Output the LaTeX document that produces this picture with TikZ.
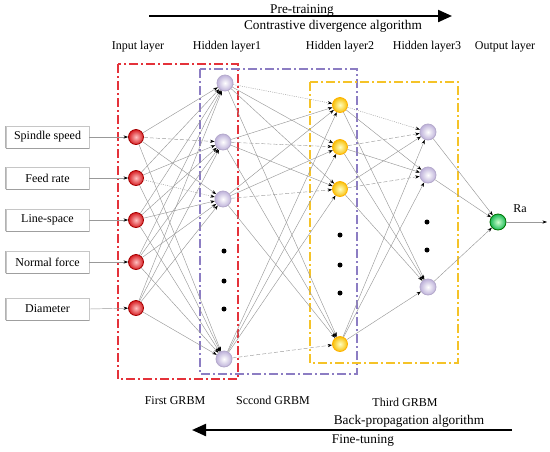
\documentclass[tikz,border=0pt]{standalone}
\usepackage{fontspec}
\setmainfont{Liberation Serif}
\usetikzlibrary{arrows.meta}
\definecolor{rboxc}{RGB}{228,50,58}
\definecolor{pboxc}{RGB}{140,125,195}
\definecolor{yboxc}{RGB}{245,195,40}
\definecolor{hpurple}{RGB}{190,178,218}
\definecolor{hyellow}{RGB}{248,192,10}
\definecolor{hred}{RGB}{215,30,35}
\definecolor{hgreen}{RGB}{25,185,85}
\tikzset{
  ballbase/.style={circle, minimum size=15pt, inner sep=0pt, line width=0.8pt, shading=radial},
  redball/.style={ballbase, inner color=red!25!white, outer color=hred, draw=red!65!black},
  purpball/.style={ballbase, minimum size=16pt, inner color=white, outer color=hpurple, draw=hpurple!85!gray},
  yelball/.style={ballbase, inner color=yellow!25!white, outer color=hyellow, draw=orange!60!yellow},
  grnball/.style={ballbase, minimum size=16pt, inner color=green!20!white, outer color=hgreen, draw=green!45!black},
  dotn/.style={circle, fill=black, minimum size=5pt, inner sep=0pt},
  conn/.style={draw=gray!80, line width=0.45pt, -{Stealth[length=4.5pt,width=3.2pt,black]}},
  dashc/.style={dash pattern=on 4pt off 2pt},
  dotc/.style={dash pattern=on 1pt off 1.2pt},
  inbox/.style={draw=gray!45, line width=0.6pt, minimum width=83pt, minimum height=22pt, inner sep=0pt, font=\fontsize{12}{14}\selectfont},
  lbl/.style={font=\fontsize{12}{14}\selectfont, anchor=base, inner sep=0pt},
  biglbl/.style={font=\fontsize{13.3}{15}\selectfont, anchor=base, inner sep=0pt},
  bigarrow/.style={line width=2.2pt, -{Triangle[length=14pt,width=12pt]}},
  grbm/.style={line width=1.3pt, dash pattern=on 9pt off 3pt on 2pt off 3pt},
}
\begin{document}
\begin{tikzpicture}[x=1pt,y=-1pt]
\useasboundingbox (0,0) rectangle (550,451);

% GRBM boxes
\draw[grbm, rboxc] (118,64) rectangle (238,379);
\draw[grbm, pboxc, line width=1.1pt] (200,69) rectangle (357,374);
\draw[grbm, yboxc, line width=1.1pt] (310,82) rectangle (458,363);

% layer labels
\node[lbl] (lin) at (138,49) {Input layer};
\node[lbl] (lh1) at (227,49) {Hidden layer1};
\node[lbl] (lh2) at (340,49) {Hidden layer2};
\node[lbl] (lh3) at (427,49) {Hidden layer3};
\node[lbl] (lout) at (505,49) {Output layer};

% top arrow
\coordinate (ta) at (149,16);
\coordinate (tb) at (452,16);
\draw[bigarrow] (ta) -- (tb);
\node[biglbl] (pt) at (302,13.5) {Pre-training};
\node[biglbl] (cd) at (333,29.5) {Contrastive divergence algorithm};

% bottom arrow
\coordinate (ba) at (512,430);
\coordinate (bb) at (192,430);
\draw[bigarrow] (ba) -- (bb);
\node[biglbl] (bp) at (409,424) {Back-propagation algorithm};
\node[biglbl] (ft) at (363,443) {Fine-tuning};

% GRBM labels
\node[lbl] (g1) at (175,404) {First GRBM};
\node[lbl] (g2) at (273,404) {Sccond GRBM};
\node[lbl] (g3) at (405,406) {Third GRBM};

% input boxes
\node[inbox] (b1) at (47.5,137) {Spindle speed};
\node[inbox] (b2) at (47.5,178) {Feed rate};
\node[inbox] (b3) at (47.5,220) {Line-space};
\node[inbox] (b4) at (47.5,262) {Normal force};
\node[inbox] (b5) at (47.5,309) {Diameter};
\foreach \k in {1,...,5}{
  \draw[gray!75, line width=1pt] (b\k.south west) -- (b\k.south east);
  \draw[gray!60, line width=1pt] (b\k.south west) -- (b\k.north west);
}

% nodes
\node[redball] (i1) at (136,137) {};
\node[redball] (i2) at (136,178) {};
\node[redball] (i3) at (136,220) {};
\node[redball] (i4) at (136,262) {};
\node[redball] (i5) at (136,308) {};

\node[purpball] (a1) at (225,83) {};
\node[purpball] (a2) at (223,142) {};
\node[purpball] (a3) at (223,199) {};
\node[purpball] (a4) at (224,359) {};
\node[dotn] (ad1) at (224,251) {};
\node[dotn] (ad2) at (224,281) {};
\node[dotn] (ad3) at (224,309) {};

\node[yelball] (y1) at (340,105) {};
\node[yelball] (y2) at (340,147) {};
\node[yelball] (y3) at (340,189) {};
\node[yelball] (y4) at (340,344) {};
\node[dotn] (yd1) at (340,235) {};
\node[dotn] (yd2) at (340,265) {};
\node[dotn] (yd3) at (340,293) {};

\node[purpball] (c1) at (428,132) {};
\node[purpball] (c2) at (428,175) {};
\node[purpball] (c3) at (428,287) {};
\node[dotn] (cd1) at (427,222) {};
\node[dotn] (cd2) at (427,250) {};

\node[grnball] (o) at (498,222) {};
\node[lbl] (ra) at (520,212) {Ra};
\coordinate (oend) at (547,222);

% input box arrows
\foreach \k in {1,...,5}{
  \draw[conn] (b\k.east) -- (i\k);
}

% input -> hidden1
\foreach \i in {1,...,5}{\foreach \j in {1,...,4}{
  \pgfmathtruncatemacro\cc{10*\i+\j}
  \ifnum\cc=12\relax\else\ifnum\cc=23\relax\else
    \draw[conn] (i\i) -- (a\j);
  \fi\fi
}}
\draw[conn,dashc] (i1) -- (a2);
\draw[conn,dotc] (i2) -- (a3);

% hidden1 -> hidden2
\foreach \i in {1,...,4}{\foreach \j in {1,...,4}{
  \ifnum\i=\j\relax\else
    \draw[conn] (a\i) -- (y\j);
  \fi
}}
\draw[conn,dotc] (a1) -- (y1);
\draw[conn,dashc] (a2) -- (y2);
\draw[conn,dashc] (a3) -- (y3);
\draw[conn,dashc] (a4) -- (y4);

% hidden2 -> hidden3
\foreach \i in {1,...,4}{\foreach \j in {1,...,3}{
  \pgfmathtruncatemacro\cc{10*\i+\j}
  \ifnum\cc=11\relax\else\ifnum\cc=21\relax\else\ifnum\cc=32\relax\else
    \draw[conn] (y\i) -- (c\j);
  \fi\fi\fi
}}
\draw[conn,dotc] (y1) -- (c1);
\draw[conn,dashc] (y2) -- (c1);
\draw[conn,dashc] (y3) -- (c2);

% hidden3 -> output
\foreach \j in {1,...,3}{
  \draw[conn] (c\j) -- (o);
}
\draw[conn] (o) -- (oend);
\end{tikzpicture}
\end{document}
